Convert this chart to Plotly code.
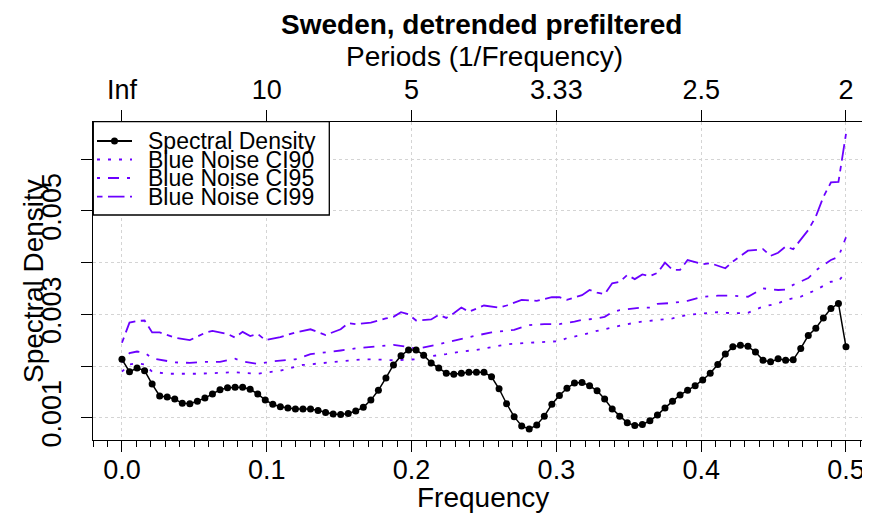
import plotly.graph_objects as go

# ---------------- data ----------------
N_FFT = 192
spec = [0.00213, 0.00189, 0.00196, 0.00191, 0.00165, 0.00142, 0.00140, 0.00136, 0.00128, 0.00127,
        0.00132, 0.00138, 0.00146, 0.00154, 0.00158, 0.00159, 0.00159, 0.00155, 0.00146, 0.00134,
        0.00126, 0.00121, 0.00119, 0.00117, 0.00117, 0.00117, 0.00114, 0.00110, 0.00107, 0.00106,
        0.00108, 0.00113, 0.00120, 0.00134, 0.00153, 0.00177, 0.00202, 0.00220, 0.00231, 0.00231,
        0.00221, 0.00206, 0.00196, 0.00186, 0.00184, 0.00186, 0.00188, 0.00188, 0.00188, 0.00179,
        0.00156, 0.00127, 0.00102, 0.00084, 0.00078, 0.00086, 0.00103, 0.00126, 0.00143, 0.00157,
        0.00167, 0.00168, 0.00162, 0.00152, 0.00136, 0.00117, 0.00103, 0.00090, 0.00085, 0.00087,
        0.00094, 0.00105, 0.00119, 0.00132, 0.00144, 0.00153, 0.00162, 0.00173, 0.00186, 0.00203,
        0.00223, 0.00237, 0.00240, 0.00238, 0.00227, 0.00211, 0.00208, 0.00214, 0.00211, 0.00212,
        0.00234, 0.00259, 0.00273, 0.00293, 0.00311, 0.00321, 0.00237]
spec_k = list(range(len(spec)))

ci99_k = [0, 1, 2, 3, 4, 5, 7, 9, 11, 12, 14, 15, 16, 17, 18, 19, 21, 23, 25, 27, 29, 30, 31, 33, 35,
          36, 37, 38, 39, 41, 42, 43, 44, 45, 46, 48, 50, 51, 53, 55, 57, 58, 59, 61, 62, 63, 64, 65,
          66, 67, 68, 69, 70, 71, 72, 73, 74, 75, 77, 78, 80, 81, 83, 85, 86, 87, 88, 89, 91, 92, 93,
          94, 95, 96]
ci99 = [0.00245, 0.00284, 0.00287, 0.00288, 0.00265, 0.00265, 0.00255, 0.00250, 0.00264, 0.00268,
        0.00262, 0.00255, 0.00266, 0.00258, 0.00262, 0.00250, 0.00256, 0.00265, 0.00271, 0.00260,
        0.00271, 0.00283, 0.00281, 0.00284, 0.00292, 0.00295, 0.00304, 0.00300, 0.00288, 0.00290,
        0.00299, 0.00293, 0.00302, 0.00313, 0.00305, 0.00317, 0.00313, 0.00317, 0.00328, 0.00326,
        0.00333, 0.00333, 0.00328, 0.00337, 0.00347, 0.00342, 0.00339, 0.00360, 0.00363, 0.00376,
        0.00368, 0.00377, 0.00374, 0.00380, 0.00400, 0.00386, 0.00386, 0.00405, 0.00397, 0.00399,
        0.00389, 0.00402, 0.00423, 0.00426, 0.00413, 0.00419, 0.00431, 0.00426, 0.00463, 0.00489,
        0.00527, 0.00555, 0.00556, 0.00649]

ci95_k = [0, 1, 2, 3, 4, 5, 7, 9, 11, 13, 15, 16, 18, 20, 22, 23, 25, 27, 29, 31, 33, 34, 36, 38, 39,
          41, 43, 45, 47, 49, 51, 52, 53, 54, 56, 58, 60, 61, 63, 64, 65, 66, 69, 70, 71, 73, 75, 77,
          79, 81, 83, 85, 87, 88, 89, 91, 92, 93, 94, 95, 96]
ci95 = [0.00207, 0.00225, 0.00228, 0.00226, 0.00215, 0.00212, 0.00207, 0.00206, 0.00208, 0.00208,
        0.00214, 0.00209, 0.00204, 0.00209, 0.00212, 0.00213, 0.00223, 0.00226, 0.00230, 0.00234,
        0.00237, 0.00239, 0.00241, 0.00237, 0.00233, 0.00239, 0.00246, 0.00252, 0.00259, 0.00265,
        0.00268, 0.00270, 0.00275, 0.00279, 0.00281, 0.00281, 0.00286, 0.00289, 0.00292, 0.00295,
        0.00304, 0.00308, 0.00313, 0.00313, 0.00320, 0.00322, 0.00326, 0.00334, 0.00336, 0.00336,
        0.00334, 0.00350, 0.00347, 0.00348, 0.00357, 0.00370, 0.00385, 0.00395, 0.00405, 0.00411,
        0.00449]

ci90_k = [0, 1, 2, 3, 4, 6, 10, 15, 18, 21, 24, 28, 32, 35, 36, 39, 40, 43, 45, 47, 49, 51, 54, 56,
          58, 59, 61, 63, 65, 67, 69, 71, 73, 75, 77, 79, 81, 83, 85, 87, 88, 90, 92, 94, 95, 96]
ci90 = [0.00189, 0.00203, 0.00205, 0.00203, 0.00189, 0.00185, 0.00185, 0.00188, 0.00185, 0.00191,
        0.00202, 0.00208, 0.00213, 0.00212, 0.00211, 0.00213, 0.00217, 0.00223, 0.00228, 0.00231,
        0.00236, 0.00242, 0.00245, 0.00247, 0.00248, 0.00254, 0.00260, 0.00268, 0.00275, 0.00281,
        0.00286, 0.00289, 0.00292, 0.00299, 0.00302, 0.00304, 0.00302, 0.00303, 0.00315, 0.00321,
        0.00328, 0.00334, 0.00347, 0.00363, 0.00364, 0.00382]

x_tickvals = [0.0, 0.1, 0.2, 0.3, 0.4, 0.5]
x_ticktext = ["0.0", "0.1", "0.2", "0.3", "0.4", "0.5"]
top_ticktext = ["Inf", "10", "5", "3.33", "2.5", "2"]
y_tickvals = [0.001, 0.002, 0.003, 0.004, 0.005, 0.006]
y_ticktext = ["0.001", "", "0.003", "", "0.005", ""]

legend_labels = ["Spectral Density", "Blue Noise CI90", "Blue Noise CI95", "Blue Noise CI99"]

# ---------------- layout geometry / style ----------------
# The page body has an 8px margin, so the figure is drawn 8px smaller and all
# positions (given in window pixels) are shifted by OFF.
OFF = 8
WIN_W, WIN_H = 870, 516
W, H = WIN_W - OFF, WIN_H - OFF
PLOT_L, PLOT_R, PLOT_T, PLOT_B = 93, 870, 122, 440      # window pixels
ML, MR, MT, MB = PLOT_L - OFF, WIN_W - PLOT_R, PLOT_T - OFF, WIN_H - PLOT_B
PURPLE = "#6B00FF"
FONT = "Liberation Sans, Arial, Helvetica, sans-serif"
DASH90 = "3px,8px"
DASH95 = "3px,8px,11px,8px"
DASH99 = "5.5px,5.5px,16.5px,5.5px"
GRID = "#d4d4d4"


def fx(k_list):
    return [k / N_FFT for k in k_list]


def px(x):
    return (x - PLOT_L) / (PLOT_R - PLOT_L)


def py(y):
    return (PLOT_B - y) / (PLOT_B - PLOT_T)


fig = go.Figure()
fig.add_trace(go.Scatter(x=fx(ci90_k), y=ci90, mode="lines",
                         line=dict(color=PURPLE, width=1.8, dash=DASH90), showlegend=False))
fig.add_trace(go.Scatter(x=fx(ci95_k), y=ci95, mode="lines",
                         line=dict(color=PURPLE, width=1.8, dash=DASH95), showlegend=False))
fig.add_trace(go.Scatter(x=fx(ci99_k), y=ci99, mode="lines",
                         line=dict(color=PURPLE, width=1.8, dash=DASH99), showlegend=False))
fig.add_trace(go.Scatter(x=fx(spec_k), y=spec, mode="lines+markers",
                         line=dict(color="black", width=1.5),
                         marker=dict(color="black", size=7), showlegend=False))
# invisible trace to activate the top axis
fig.add_trace(go.Scatter(x=[0.0, 0.5], y=[None, None], xaxis="x2", mode="lines",
                         showlegend=False, hoverinfo="skip"))

xr = [-0.02, (PLOT_R - 122.3) / 1447.4]
yr = [0.001 + (417.7 - PLOT_B) / 51700, 0.001 + (417.7 - PLOT_T) / 51700]

tickfont = dict(family=FONT, size=27, color="black")

fig.update_layout(
    width=W, height=H,
    margin=dict(l=ML, r=MR, t=MT, b=MB, pad=0, autoexpand=False),
    plot_bgcolor="white", paper_bgcolor="white",
    font=dict(family=FONT, color="black"),
    showlegend=False,
    xaxis=dict(range=xr, tickvals=x_tickvals, ticktext=x_ticktext, tickfont=tickfont,
               automargin=False, ticklabelstandoff=-6,
               ticks="outside", ticklen=11, tickwidth=1.3, tickcolor="black",
               showline=True, linecolor="black", linewidth=1.3,
               showgrid=True, gridcolor=GRID, griddash="dot", gridwidth=1,
               zeroline=False,
               minor=dict(dtick=0.01, tick0=0, ticklen=6, tickwidth=1.3, tickcolor="black",
                          ticks="outside", showgrid=False)),
    xaxis2=dict(range=xr, overlaying="x", side="top", anchor="y",
                automargin=False,
                tickvals=x_tickvals, ticktext=top_ticktext, tickfont=tickfont,
                ticks="outside", ticklen=11, tickwidth=1.3, tickcolor="black",
                showline=True, linecolor="black", linewidth=1.3,
                showgrid=False, zeroline=False),
    yaxis=dict(range=yr, tickvals=y_tickvals, ticktext=y_ticktext, tickfont=tickfont,
               automargin=False, ticklabelstandoff=9,
               tickangle=-90, ticks="outside", ticklen=11, tickwidth=1.3, tickcolor="black",
               showline=True, linecolor="black", linewidth=1.3,
               showgrid=True, gridcolor=GRID, griddash="dot", gridwidth=1,
               zeroline=False),
)

annos = [
    dict(text="<b>Sweden, detrended prefiltered</b>", x=px(482), y=py(25),
         font=dict(family=FONT, size=28, color="black")),
    dict(text="Periods (1/Frequency)", x=px(484), y=py(57),
         font=dict(family=FONT, size=28, color="black")),
    dict(text="Frequency", x=px(483), y=py(497),
         font=dict(family=FONT, size=28, color="black")),
    dict(text="Spectral Density", x=px(33), y=py(281), textangle=-90,
         font=dict(family=FONT, size=28, color="black")),
]
for a in annos:
    fig.add_annotation(xref="paper", yref="paper", showarrow=False,
                       xanchor="center", yanchor="middle", **a)

# manual legend (box, samples, labels)
fig.add_shape(type="rect", xref="paper", yref="paper",
              x0=px(93.3), x1=px(329.3), y0=py(215), y1=py(121.7),
              line=dict(color="black", width=1.3), fillcolor="white", layer="above")
rows = [141, 159.5, 178, 196.7]
dashes = ["solid", DASH90, DASH95, DASH99]
colors = ["black", PURPLE, PURPLE, PURPLE]
for r, d, c, lab in zip(rows, dashes, colors, legend_labels):
    fig.add_shape(type="line", xref="paper", yref="paper",
                  x0=px(97), x1=px(132), y0=py(r), y1=py(r),
                  line=dict(color=c, width=2 if c == "black" else 1.8, dash=d), layer="above")
    fig.add_annotation(xref="paper", yref="paper", showarrow=False, text=lab,
                       x=px(146), y=py(r), xanchor="left", yanchor="middle",
                       font=dict(family=FONT, size=23, color="black"))
fig.add_shape(type="circle", xref="paper", yref="paper",
              x0=px(111), x1=px(118), y0=py(144.5), y1=py(137.5),
              line=dict(color="black", width=0), fillcolor="black", layer="above")

fig.write_html("out.html")
